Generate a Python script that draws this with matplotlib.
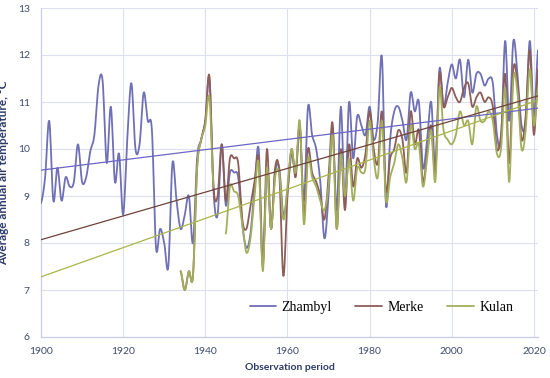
import numpy as np
import matplotlib
matplotlib.use("Agg")
import matplotlib.pyplot as plt

# ---------------------------------------------------
# data (annual means, deg C)
# ---------------------------------------------------
years = list(range(1900, 2022))

zhambyl = [
    8.85, 9.4, 10.6, 8.9, 9.6, 8.9, 9.4, 9.2, 9.3, 10.1,    # 1900-1909
    9.3, 9.4, 9.95, 10.3, 11.35, 11.45, 9.7, 10.9, 9.3, 9.9,  # 1910-1919
    8.6, 10.2, 11.4, 10.0, 10.1, 11.2, 10.6, 10.4, 7.9, 8.3,  # 1920-1929
    8.0, 7.5, 9.7, 8.9, 8.3, 8.6, 9.0, 8.0, 9.8, 10.2,       # 1930-1939
    10.6, 11.5, 9.1, 8.6, 10.1, 8.8, 9.5, 9.5, 9.4, 8.4,     # 1940-1949
    7.9, 8.2, 9.2, 10.0, 7.6, 9.6, 8.3, 9.5, 9.6, 8.6,       # 1950-1959
    9.1, 9.9, 9.5, 10.5, 8.9, 10.9, 10.3, 10.0, 9.3, 8.1,    # 1960-1969
    9.0, 10.4, 8.7, 10.9, 8.9, 11.0, 9.8, 10.7, 10.5, 10.3,  # 1970-1979
    10.9, 10.2, 10.6, 11.95, 8.8, 10.2, 10.8, 10.9, 10.6, 10.2,  # 1980-1989
    11.2, 10.8, 11.0, 9.6, 10.2, 11.0, 9.6, 11.7, 10.9, 11.4,    # 1990-1999
    11.8, 11.5, 11.9, 11.1, 11.9, 11.2, 11.6, 11.6, 11.35, 11.5,  # 2000-2009
    11.4, 10.3, 10.2, 12.3, 10.6, 12.3, 11.6, 10.5, 10.6, 12.3,   # 2010-2019
    10.7, 12.1,                                                   # 2020-2021
]

nan = np.nan
merke = [nan] * 34 + [
    7.4, 7.0, 7.4, 7.3, 9.6, 10.2,                           # 1934-1939
    10.6, 11.55, 9.2, 9.0, 10.1, 8.9, 9.8, 9.8, 9.7, 8.5,    # 1940-1949
    8.3, 8.8, 9.3, 9.8, 7.5, 10.0, 8.3, 9.6, 9.5, 7.3,       # 1950-1959
    9.0, 10.0, 9.4, 10.5, 8.6, 10.0, 9.5, 9.3, 9.0, 8.5,     # 1960-1969
    9.4, 10.55, 8.3, 10.0, 8.7, 10.1, 9.2, 9.8, 9.6, 9.9,    # 1970-1979
    10.8, 10.0, 9.7, 10.8, 9.1, 9.8, 10.0, 10.4, 10.2, 9.5,  # 1980-1989
    10.8, 10.1, 10.4, 9.3, 9.9, 10.5, 9.5, 11.6, 10.9, 11.1,  # 1990-1999
    11.3, 11.1, 11.0, 11.3, 11.4, 10.9, 11.1, 11.2, 11.0, 11.1,  # 2000-2009
    10.9, 10.0, 10.3, 11.6, 9.7, 11.7, 11.4, 10.2, 10.7, 12.1,   # 2010-2019
    10.3, 11.7,                                                  # 2020-2021
]

kulan = [nan] * 34 + [
    7.4, 7.0, 7.4, 7.3, 9.6, 10.2,                           # 1934-1939
    10.5, 11.1, 9.2, nan, nan, 8.2, 9.2, 9.1, 9.0, 8.4,      # 1940-1949
    7.8, 8.1, 9.0, 9.7, 7.4, 9.6, 8.3, 9.4, 9.5, 8.5,        # 1950-1959
    9.2, 10.0, 9.5, 10.6, 8.4, 9.8, 9.4, 9.2, 8.9, 8.7,      # 1960-1969
    9.2, 10.3, 8.3, 9.9, 9.0, 9.8, 8.9, 9.6, 9.5, 9.6,       # 1970-1979
    10.6, 9.8, 9.4, 10.6, 8.9, 9.4, 9.7, 10.1, 9.8, 9.3,     # 1980-1989
    10.5, 10.0, 10.1, 9.2, 9.8, 10.4, 9.3, 11.3, 10.4, 10.2,  # 1990-1999
    10.1, 10.3, 10.8, 10.5, 10.6, 10.1, 10.9, 10.6, 10.6, 10.8,  # 2000-2009
    10.6, 9.9, 10.0, 11.3, 9.3, 11.5, 11.2, 10.0, 10.4, 11.7,    # 2010-2019
    10.5, 11.3,                                                  # 2020-2021
]

# linear trend lines: value at 1900 and at 2021
trend_years = [1900, 2021]
zhambyl_trend = [9.55, 10.87]
merke_trend = [8.07, 11.13]
kulan_trend = [7.28, 11.04]

names = ["Zhambyl", "Merke", "Kulan"]
colors = ["#6f70b6", "#8d5d58", "#a3ae5c"]
trend_colors = ["#6b66c4", "#6e4238", "#a9b548"]


def smooth(x, y, n=10):
    """Catmull-Rom smoothing (like Excel's smoothed line), split at gaps."""
    x = np.asarray(x, float)
    y = np.asarray(y, float)
    ok = ~np.isnan(y)
    pieces = []
    idx = np.where(ok)[0]
    if len(idx) == 0:
        return pieces
    breaks = np.where(np.diff(idx) > 1)[0]
    for seg in np.split(idx, breaks + 1):
        xs, ys = x[seg], y[seg]
        if len(seg) < 3:
            pieces.append((xs, ys))
            continue
        px = np.concatenate([[xs[0]], xs, [xs[-1]]])
        py = np.concatenate([[ys[0]], ys, [ys[-1]]])
        t = np.linspace(0, 1, n, endpoint=False)
        ox, oy = [], []
        for i in range(1, len(px) - 2):
            p0, p1, p2, p3 = py[i - 1], py[i], py[i + 1], py[i + 2]
            yy = 0.5 * ((2 * p1) + (-p0 + p2) * t
                        + (2 * p0 - 5 * p1 + 4 * p2 - p3) * t ** 2
                        + (-p0 + 3 * p1 - 3 * p2 + p3) * t ** 3)
            ox.append(px[i] + (px[i + 1] - px[i]) * t)
            oy.append(yy)
        ox.append([xs[-1]])
        oy.append([ys[-1]])
        pieces.append((np.concatenate(ox), np.concatenate(oy)))
    return pieces


# ---------------------------------------------------
# plot
# ---------------------------------------------------
fig = plt.figure(figsize=(5.5, 3.78), dpi=100)
ax = fig.add_axes([41 / 550, 1 - 337 / 378, (538 - 41) / 550, (337 - 8) / 378])

series = [zhambyl, merke, kulan]
for vals, name, col in zip(series, names, colors):
    first = True
    for sx, sy in smooth(years, vals):
        ax.plot(sx, sy, color=col, lw=1.3, solid_capstyle="round",
                label=name if first else None, zorder=3)
        first = False

for tr, col in zip([zhambyl_trend, merke_trend, kulan_trend], trend_colors):
    ax.plot(trend_years, tr, color=col, lw=0.9, zorder=4)

ax.set_xlim(1900, 2021)
ax.set_ylim(6, 13)
ax.set_xticks(range(1900, 2021, 20))
ax.set_yticks(range(6, 14))

grid_col = "#dcdff2"
ax.grid(True, color=grid_col, lw=0.8, zorder=0)
ax.set_axisbelow(True)
for s in ["top", "right"]:
    ax.spines[s].set_visible(False)
for s in ["left", "bottom"]:
    ax.spines[s].set_color("#c9cdea")
    ax.spines[s].set_linewidth(0.9)

tick_col = "#3e4c70"
ax.tick_params(length=0, labelsize=7.5, labelcolor=tick_col)
ax.tick_params(axis="y", pad=8)
ax.tick_params(axis="x", pad=7)
for lab in ax.get_xticklabels() + ax.get_yticklabels():
    lab.set_fontfamily("Lato")

lab_col = "#2c3a68"
ax.set_xlabel("Observation period", fontsize=7.5, fontweight="bold",
              color=lab_col, family="Lato", labelpad=5)
ax.set_ylabel("Average annual air temperature, \u00b0C", fontsize=8.5,
              fontweight="bold", color=lab_col, family="Lato", labelpad=6)

leg = ax.legend(loc="center", bbox_to_anchor=(0.685, 0.09), ncol=3,
                frameon=False, handlelength=1.9, columnspacing=1.7,
                handletextpad=0.4, prop={"family": "Liberation Serif", "size": 10})
for ln in leg.get_lines():
    ln.set_linewidth(1.3)

fig.savefig("out.png", dpi=100)
